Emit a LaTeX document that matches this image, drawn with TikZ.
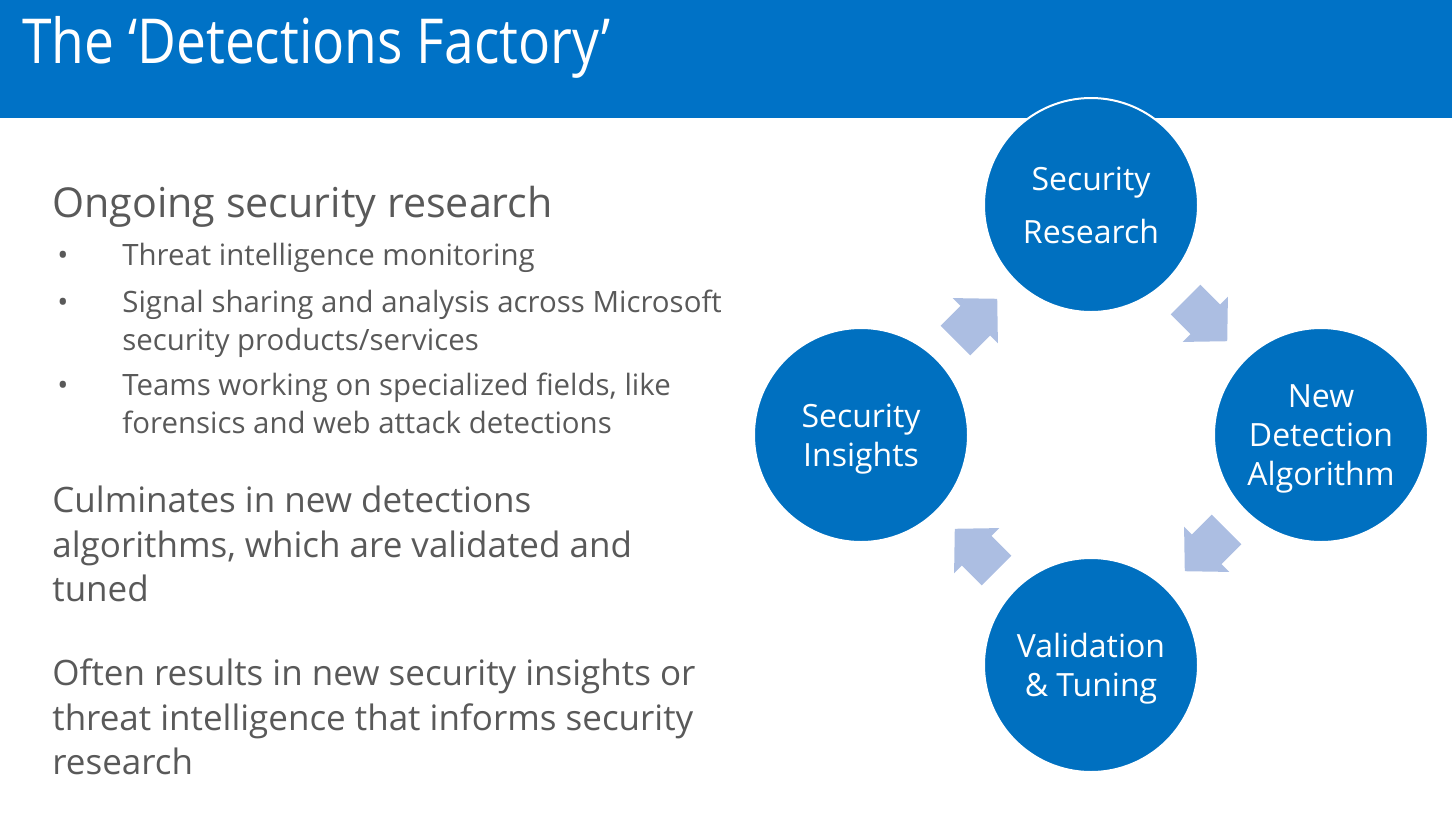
\documentclass[tikz,border=0pt]{standalone}
\usepackage{fontspec}
\setmainfont{Open Sans}
\newfontfamily\titlefont[FakeStretch=0.86]{Open Sans}
\usetikzlibrary{calc}
\definecolor{headblue}{RGB}{0,114,198}
\definecolor{circblue}{RGB}{0,112,192}
\definecolor{arrowblue}{RGB}{172,190,226}
\definecolor{bodygray}{RGB}{89,89,89}
\tikzset{
  stage/.style={circle,fill=circblue,draw=white,line width=1pt,minimum size=107pt,inner sep=0pt},
  stagetext/.style={inner sep=0pt,text=white,align=center,font=\fontsize{16}{19.5}\selectfont},
  bodyline/.style={anchor=base west,inner sep=0pt,text=bodygray},
  bigline/.style={bodyline,font=\fontsize{17.5}{22}\selectfont},
  bulletline/.style={bodyline,font=\fontsize{14.7}{19}\selectfont}
}
\begin{document}
\begin{tikzpicture}[x=0.5pt,y=-0.5pt]
	\useasboundingbox (0,0) rectangle (1452,820);
	% header band
	\fill[headblue] (0,0) rectangle (1452,118);
	\node[anchor=base west,inner sep=0pt,text=white,font=\titlefont\fontsize{31}{38}\selectfont] (title) at (22,63) {The ‘Detections Factory’};
	% left column
	\node[bodyline,font=\fontsize{20.6}{25}\selectfont] (head) at (52,217) {Ongoing security research};
	\foreach \y/\t [count=\i] in {265/Threat intelligence monitoring,
		312/Signal sharing and analysis across Microsoft,
		395/{Teams working on specialized fields, like}}
	{
		\node[bulletline] (dot\i) at (57,\y) {•};
		\node[bulletline] (item\i) at (122,\y) {\t};
	}
	\node[bulletline] (cont2) at (122,350) {security products/services};
	\node[bulletline] (cont3) at (122,433) {forensics and web attack detections};
	\node[bigline] (culm1) at (52,512) {Culminates in new detections};
	\node[bigline] (culm2) at (52,557) {algorithms, which are validated and};
	\node[bigline] (culm3) at (52,601) {tuned};
	\node[bigline] (often1) at (52,685) {Often results in new security insights or};
	\node[bigline] (often2) at (52,730) {threat intelligence that informs security};
	\node[bigline] (often3) at (52,774) {research};
	% cycle
	\node[stage] (research) at (1091,205) {};
	\node[stage] (algo) at (1321,435) {};
	\node[stage] (tuning) at (1091,665) {};
	\node[stage] (insights) at (861,435) {};
	\node[stagetext] (researchtext) at (research.center) {Security\\[7pt]Research};
	\node[stagetext] (algotext) at ([yshift=-2pt]algo.center) {New\\Detection\\Algorithm};
	\node[stagetext] (tuningtext) at ([yshift=-2pt]tuning.center) {Validation\\\& Tuning};
	\node[stagetext] (insightstext) at ([yshift=-2pt]insights.center) {Security\\Insights};
	\foreach \a/\b/\ang in {insights/research/45,research/algo/-45,algo/tuning/-135,tuning/insights/135}
		\fill[arrowblue,shift={($(\a)!0.5!(\b)$)},rotate=\ang]
			(-29,-21) -- (-1,-21) -- (-1,-32) -- (30,0) -- (-1,32) -- (-1,21) -- (-29,21) -- cycle;
\end{tikzpicture}
\end{document}
